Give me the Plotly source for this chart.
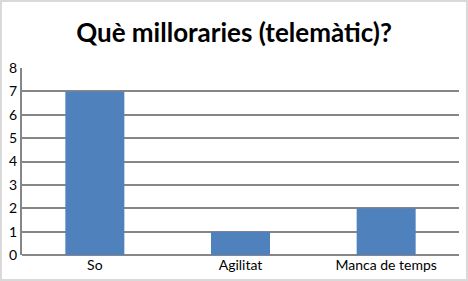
import plotly.graph_objects as go

categories = ["So", "Agilitat", "Manca de temps"]
values = [7, 1, 2]
title_text = "Què milloraries (telemàtic)?"

W, H = 468, 281
ml, mr, mt, mb = 22, 9, 68, 26
pw, ph = W - ml - mr, H - mt - mb

fig = go.Figure(go.Bar(x=categories, y=values, marker=dict(color="#4f81bd", line=dict(width=0)), width=0.405))

def px2x(p):
    return (p - ml) / pw

def py2y(p):
    return (H - mb - p) / ph

fig.update_layout(
    width=W, height=H,
    margin=dict(l=ml, r=mr, t=mt, b=mb),
    paper_bgcolor="white", plot_bgcolor="white",
    title=dict(text="<b>" + title_text + "</b>", x=0.5, xanchor="center", y=1 - 33 / H, yanchor="middle",
               font=dict(family="Lato", size=26, color="black")),
    font=dict(family="Lato", size=14, color="black"),
    showlegend=False,
    xaxis=dict(showgrid=False, showline=False, ticks="", tickfont=dict(size=14)),
    yaxis=dict(range=[0, 8], dtick=1, showgrid=True, gridcolor="#868686", gridwidth=2,
               showline=True, linecolor="#868686", linewidth=2, zeroline=True, zerolinecolor="#868686",
               zerolinewidth=2, ticks="", tickfont=dict(size=14)),
    shapes=[dict(type="rect", xref="paper", yref="paper",
                 x0=px2x(1), x1=px2x(467), y0=py2y(280), y1=py2y(1),
                 line=dict(color="#d9d9d9", width=2), layer="below")],
)

fig.write_html("out.html")
